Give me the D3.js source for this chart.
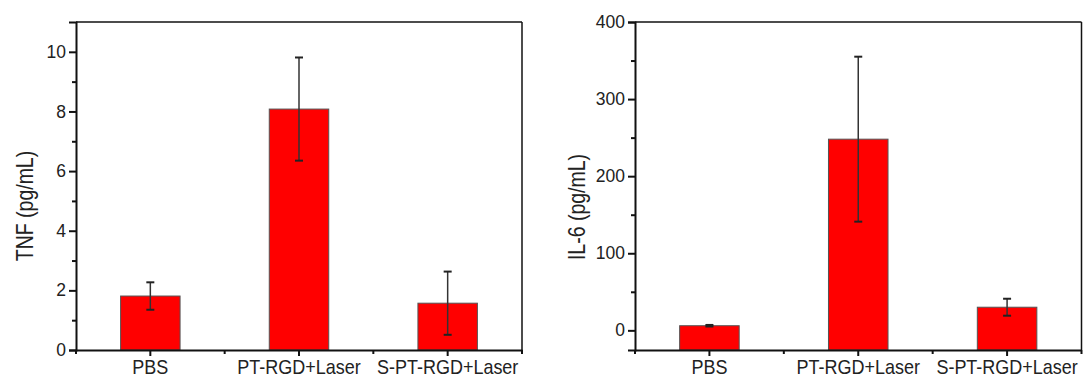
<!DOCTYPE html>
<html>
<head>
<meta charset="utf-8">
<script src="https://cdn.jsdelivr.net/npm/d3@7"></script>
<style>
  html, body { margin: 0; padding: 0; background: #fff; }
  svg { display: block; }
  text { font-family: Arial, "Liberation Sans", sans-serif; fill: #222; }
</style>
</head>
<body>
<svg id="chart" width="1083" height="378"></svg>
<script>
// ---- data ----
const categories = ["PBS", "PT-RGD+Laser", "S-PT-RGD+Laser"];
const tnfMeans = [1.81, 8.08, 1.57];
const tnfErrors = [0.46, 1.73, 1.06];
const il6Means = [6, 248, 30];
const il6Errors = [1, 107, 11];
const tnfTicks = [0, 2, 4, 6, 8, 10];
const tnfMinorTicks = [1, 3, 5, 7, 9];
const il6Ticks = [0, 100, 200, 300, 400];
const il6MinorTicks = [50, 150, 250, 350];

const svg = d3.select("#chart");
svg.append("rect").attr("width", 1083).attr("height", 378).attr("fill", "#fff");

function panel(cfg) {
  const g = svg.append("g");
  const x = d3.scaleBand().domain(categories).range([cfg.x0, cfg.x1]).padding(0);
  const y = d3.scaleLinear().domain(cfg.domain).range([cfg.yBot, cfg.yTop]);
  const bw = x.bandwidth() * 0.4;
  const cx = c => x(c) + x.bandwidth() / 2;

  // bars
  g.selectAll("rect.bar").data(categories).enter().append("rect")
    .attr("x", c => cx(c) - bw / 2)
    .attr("y", (c, i) => y(cfg.means[i]))
    .attr("width", bw)
    .attr("height", (c, i) => y(cfg.domain[0]) - y(cfg.means[i]))
    .attr("fill", "#ff0000")
    .attr("stroke", "#555")
    .attr("stroke-width", 1);

  // error bars
  const eb = g.selectAll("g.err").data(categories).enter().append("g");
  eb.append("line")
    .attr("x1", c => cx(c)).attr("x2", c => cx(c))
    .attr("y1", (c, i) => y(cfg.means[i] + cfg.errs[i]))
    .attr("y2", (c, i) => y(cfg.means[i] - cfg.errs[i]))
    .attr("stroke", "#333").attr("stroke-width", 1.5);
  [1, -1].forEach(s => {
    eb.append("line")
      .attr("x1", c => cx(c) - 4).attr("x2", c => cx(c) + 4)
      .attr("y1", (c, i) => y(cfg.means[i] + s * cfg.errs[i]))
      .attr("y2", (c, i) => y(cfg.means[i] + s * cfg.errs[i]))
      .attr("stroke", "#222").attr("stroke-width", 2);
  });

  // frame (top, right)
  g.append("line").attr("x1", cfg.x0).attr("x2", cfg.x1).attr("y1", cfg.yTop).attr("y2", cfg.yTop)
    .attr("stroke", "#111").attr("stroke-width", 1.5);
  g.append("line").attr("x1", cfg.x1).attr("x2", cfg.x1).attr("y1", cfg.yTop).attr("y2", cfg.yBot)
    .attr("stroke", "#111").attr("stroke-width", 1.5);

  // y axis
  const ya = g.append("g").attr("transform", `translate(${cfg.x0},0)`)
    .call(d3.axisLeft(y).tickValues(cfg.ticks).tickSize(7).tickPadding(3).tickFormat(d3.format("d")));
  ya.select(".domain").attr("stroke", "#111").attr("stroke-width", 2);
  ya.selectAll(".tick line").attr("stroke", "#111").attr("stroke-width", 2);
  ya.selectAll(".tick text").attr("font-size", 17.5).attr("fill", "#222")
    .style("font-family", "Arial, 'Liberation Sans', sans-serif");
  const ym = g.append("g").attr("transform", `translate(${cfg.x0},0)`)
    .call(d3.axisLeft(y).tickValues(cfg.minor).tickSize(4).tickFormat(""));
  ym.select(".domain").remove();
  ym.selectAll(".tick line").attr("stroke", "#111").attr("stroke-width", 2);

  // x axis
  const xa = g.append("g").attr("transform", `translate(0,${cfg.yBot})`)
    .call(d3.axisBottom(x).tickSize(6).tickPadding(4).tickSizeOuter(0));
  xa.select(".domain").attr("stroke", "#111").attr("stroke-width", 2);
  xa.selectAll(".tick line").attr("stroke", "#111").attr("stroke-width", 2);
  xa.selectAll(".tick text").remove();
  // minor x ticks at band boundaries
  const bounds = categories.map(c => x(c)).concat([cfg.x1]);
  g.selectAll("line.xminor").data(bounds).enter().append("line")
    .attr("x1", d => d).attr("x2", d => d)
    .attr("y1", cfg.yBot).attr("y2", cfg.yBot + 4)
    .attr("stroke", "#111").attr("stroke-width", 2);
  // category labels (slightly tall glyphs as in the original)
  g.selectAll("text.cat").data(categories).enter().append("text")
    .attr("transform", c => `translate(${cx(c)},${cfg.yBot + 24}) scale(1,1.15)`)
    .attr("text-anchor", "middle")
    .attr("font-size", 18)
    .text(c => c);

  // y label
  g.append("text")
    .attr("transform", `translate(${cfg.labelX},${cfg.labelY}) rotate(-90) scale(1,1.2)`)
    .attr("text-anchor", "middle")
    .attr("font-size", 19.5)
    .text(cfg.label);
}

panel({ x0: 76, x1: 522, yTop: 22, yBot: 350, domain: [0, 11],
        means: tnfMeans, errs: tnfErrors, ticks: tnfTicks, minor: tnfMinorTicks,
        label: "TNF (pg/mL)", labelX: 33, labelY: 206 });
panel({ x0: 635, x1: 1081.5, yTop: 22, yBot: 350, domain: [-25.5, 400],
        means: il6Means, errs: il6Errors, ticks: il6Ticks, minor: il6MinorTicks,
        label: "IL-6 (pg/mL)", labelX: 585, labelY: 207 });
</script>
</body>
</html>
